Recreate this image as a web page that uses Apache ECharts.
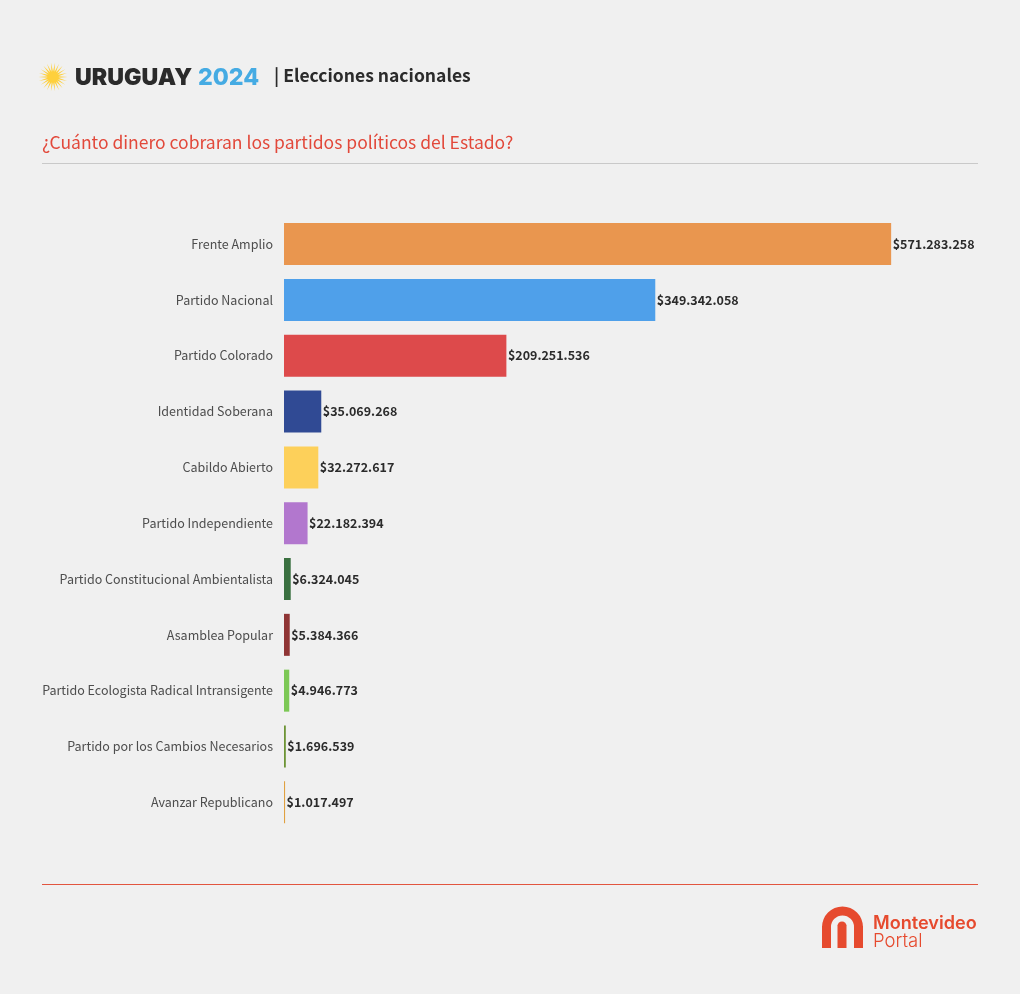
<!DOCTYPE html>
<html>
<head>
<meta charset="utf-8">
<style>
  html, body { margin: 0; padding: 0; background: #f0f0f0; }
  #chart { width: 1020px; height: 994px; }
</style>
<script src="https://cdn.jsdelivr.net/npm/echarts@6/dist/echarts.min.js"></script>
</head>
<body>
<div id="chart"></div>
<script>
const partidos = [
  'Frente Amplio', 'Partido Nacional', 'Partido Colorado', 'Identidad Soberana',
  'Cabildo Abierto', 'Partido Independiente', 'Partido Constitucional Ambientalista',
  'Asamblea Popular', 'Partido Ecologista Radical Intransigente',
  'Partido por los Cambios Necesarios', 'Avanzar Republicano'
];
const montos = [571283258, 349342058, 209251536, 35069268, 32272617, 22182394, 6324045, 5384366, 4946773, 1696539, 1017497];
const colores = ['#e9964f', '#4fa0ea', '#dd4a4b', '#304a94', '#fdd05a', '#b277ce', '#3a7040', '#8f3535', '#7cc855', '#6d9435', '#e0a040'];

const FONT = '"Noto Sans CJK SC", "Noto Sans", sans-serif';

// 1.017.497 -> separador de miles con punto
function formatoPesos(v) {
  return '$' + String(v).replace(/\B(?=(\d{3})+(?!\d))/g, '.');
}

// sol del logo
function solPuntos(cx, cy, rOut, rIn, rayos) {
  const pts = [];
  for (let i = 0; i < rayos * 2; i++) {
    const r = i % 2 ? rIn : rOut;
    const a = Math.PI * i / rayos;
    pts.push([cx + r * Math.cos(a), cy + r * Math.sin(a)]);
  }
  return pts;
}

const chart = echarts.init(document.getElementById('chart'));

chart.setOption({
  backgroundColor: '#f0f0f0',
  animation: false,
  grid: { left: 284, top: 216.2, width: 694, height: 614, containLabel: false },
  xAxis: { type: 'value', min: 0, max: 653000000, show: false },
  yAxis: {
    type: 'category',
    inverse: true,
    data: partidos,
    axisLine: { show: false },
    axisTick: { show: false },
    axisLabel: { margin: 11, color: '#4d4d4d', fontSize: 12.5, fontFamily: FONT }
  },
  series: [{
    type: 'bar',
    barWidth: 42,
    data: montos.map((v, i) => ({ value: v, itemStyle: { color: colores[i] } })),
    label: {
      show: true,
      position: 'right',
      distance: 1.5,
      color: '#2b2b2b',
      fontSize: 12.5,
      fontWeight: 'bold',
      fontFamily: FONT,
      formatter: p => formatoPesos(p.value)
    }
  }],
  graphic: [
    { type: 'polygon', shape: { points: solPuntos(53, 77, 14.5, 5.5, 22) }, style: { fill: '#fed03c' } },
    { type: 'text', x: 75, y: 78.5, style: { text: 'URUGUAY', font: '900 23.2px Inter', fill: '#2b2b2b', verticalAlign: 'middle' } },
    { type: 'text', x: 198, y: 78.5, style: { text: '2024', font: '800 23.2px Inter', fill: '#45abe3', verticalAlign: 'middle' } },
    { type: 'text', x: 274, y: 75, style: { text: '| Elecciones nacionales', font: '700 17.5px ' + FONT, fill: '#2b2b2b', verticalAlign: 'middle' } },
    { type: 'text', x: 42, y: 142, style: { text: '¿Cuánto dinero cobraran los partidos políticos del Estado?', font: '400 17.5px ' + FONT, fill: '#e2483a', verticalAlign: 'middle' } },
    { type: 'line', shape: { x1: 42, y1: 163.5, x2: 978, y2: 163.5 }, style: { stroke: '#c9c9c9', lineWidth: 1 } },
    { type: 'line', shape: { x1: 42, y1: 884.5, x2: 978, y2: 884.5 }, style: { stroke: '#e2553f', lineWidth: 1 } },
    // arco de Montevideo Portal
    { type: 'sector', shape: { cx: 842.5, cy: 927, r: 20.5, r0: 11.5, startAngle: Math.PI, endAngle: Math.PI * 2 }, style: { fill: '#e64a2e' } },
    { type: 'rect', shape: { x: 822, y: 926, width: 9, height: 22 }, style: { fill: '#e64a2e' } },
    { type: 'rect', shape: { x: 854, y: 926, width: 9, height: 22 }, style: { fill: '#e64a2e' } },
    { type: 'sector', shape: { cx: 842, cy: 926, r: 4.5, r0: 0, startAngle: Math.PI, endAngle: Math.PI * 2 }, style: { fill: '#e64a2e' } },
    { type: 'rect', shape: { x: 837.5, y: 925.5, width: 9, height: 22.5 }, style: { fill: '#e64a2e' } },
    { type: 'text', x: 873, y: 924, style: { text: 'Montevideo', font: '600 18.1px Inter', fill: '#e64a2e', verticalAlign: 'middle' } },
    { type: 'text', x: 873, y: 941, style: { text: 'Portal', font: '300 18.5px Inter', fill: '#e64a2e', verticalAlign: 'middle' } }
  ]
});
</script>
</body>
</html>
